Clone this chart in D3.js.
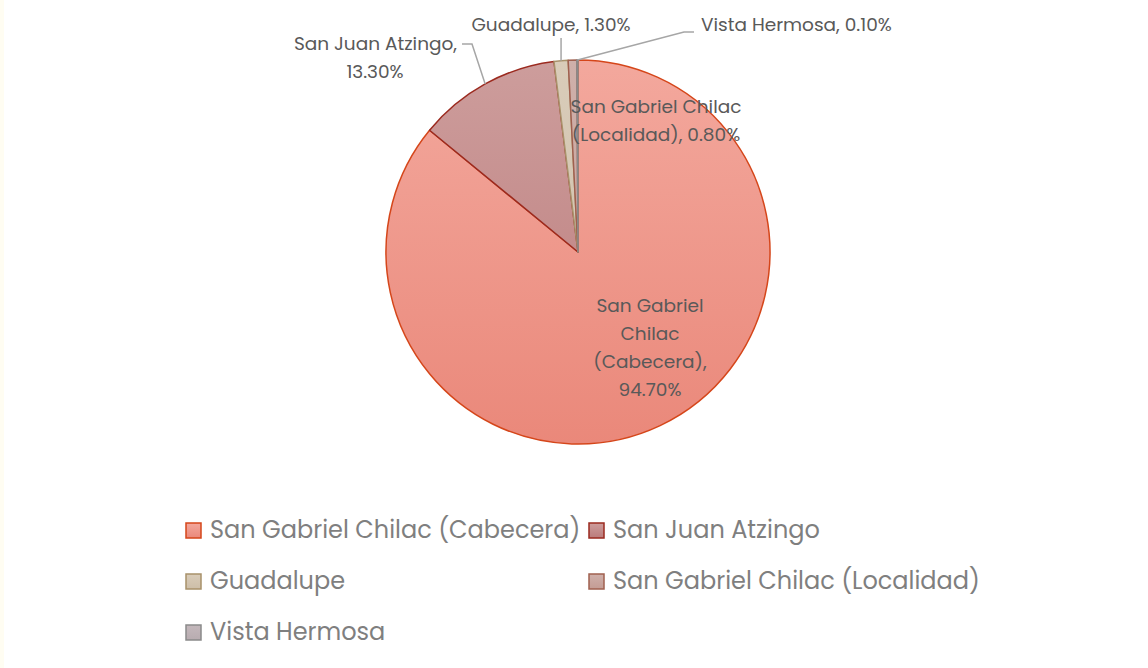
<!DOCTYPE html>
<html>
<head>
<meta charset="utf-8">
<script src="https://cdn.jsdelivr.net/npm/d3@7"></script>
<style>
  html, body { margin: 0; padding: 0; background: #ffffff; }
  #chart { width: 1148px; height: 668px; border-left: 4px solid #fffdf2; box-sizing: border-box; }
  text { font-family: "Poppins", "Open Sans", "Noto Sans", sans-serif; }
</style>
</head>
<body>
<div id="chart"></div>
<script>
// datos de la grafica
var categories = ["San Gabriel Chilac (Cabecera)", "San Juan Atzingo", "Guadalupe",
                  "San Gabriel Chilac (Localidad)", "Vista Hermosa"];
var values = [94.7, 13.3, 1.3, 0.8, 0.1];
var labelLines = [
  ["San Gabriel", "Chilac", "(Cabecera),", "94.70%"],
  ["San Juan Atzingo,", "13.30%"],
  ["Guadalupe, 1.30%"],
  ["San Gabriel Chilac", "(Localidad), 0.80%"],
  ["Vista Hermosa, 0.10%"]
];

// colores: arriba, abajo, borde
var fillTop = ["#f3a89d", "#cd9d9c", "#d9ccb9", "#cfb0aa", "#c4b8bc"];
var fillBottom = ["#ea887a", "#bb7b7b", "#cdbea8", "#c49c94", "#b8acb0"];
var strokes = ["#d5461a", "#9b2a1f", "#a8916a", "#a0604f", "#8a8a8a"];

var W = 1144, H = 668;
var cx = 574, cy = 252, R = 192;

var svg = d3.select("#chart").append("svg").attr("width", W).attr("height", H);
var defs = svg.append("defs");

fillTop.forEach(function(c, i) {
  var g = defs.append("linearGradient").attr("id", "grad" + i)
    .attr("gradientUnits", "userSpaceOnUse")
    .attr("x1", 0).attr("y1", -R).attr("x2", 0).attr("y2", R);
  g.append("stop").attr("offset", "0%").attr("stop-color", c);
  g.append("stop").attr("offset", "100%").attr("stop-color", fillBottom[i]);
});

var pie = d3.pie().sort(null).value(function(d) { return d; });
var arcs = pie(values);
var arc = d3.arc().innerRadius(0).outerRadius(R);

var g = svg.append("g").attr("transform", "translate(" + cx + "," + cy + ")");

g.selectAll("path.slice").data(arcs).enter().append("path")
  .attr("class", "slice")
  .attr("d", arc)
  .attr("fill", function(d, i) { return "url(#grad" + i + ")"; })
  .attr("stroke", function(d, i) { return strokes[i]; })
  .attr("stroke-width", 1.5)
  .attr("stroke-linejoin", "round");

// posicion de etiquetas (desplazamiento desde el centro) y anclaje
var labelLayout = [
  { x: 72, y: 55, anchor: "middle" },
  { x: -121, y: -207, anchor: "end", lastAnchor: "middle", lastX: -203 },
  { x: -27, y: -226, anchor: "middle" },
  { x: 78, y: -144, anchor: "middle" },
  { x: 123, y: -226, anchor: "start" }
];
// lineas guia (solo etiquetas externas)
var leaders = [null, { elbowX: -106, y: -208 }, { elbowX: null, y: -214 }, null, { elbowX: 106, y: -220 }];

var lineH = 28;
arcs.forEach(function(a, i) {
  var L = labelLayout[i];
  var t = g.append("text").attr("fill", "#595959").attr("font-size", 18.5);
  labelLines[i].forEach(function(s, k) {
    var last = k === labelLines[i].length - 1 && L.lastAnchor;
    t.append("tspan")
      .attr("x", last ? L.lastX : L.x)
      .attr("y", L.y + k * lineH)
      .attr("text-anchor", last ? L.lastAnchor : L.anchor)
      .attr("dominant-baseline", "middle")
      .text(s);
  });
  var ld = leaders[i];
  if (ld) {
    var mid = (a.startAngle + a.endAngle) / 2;
    var px = Math.sin(mid) * R, py = -Math.cos(mid) * R;
    var pts;
    if (ld.elbowX === null) {
      pts = [[px, ld.y], [px, py]];
    } else {
      var startX = ld.elbowX + (ld.elbowX < 0 ? -10 : 10);
      pts = [[startX, ld.y], [ld.elbowX, ld.y], [px, py]];
    }
    g.append("path")
      .attr("d", d3.line()(pts))
      .attr("fill", "none")
      .attr("stroke", "#a6a6a6")
      .attr("stroke-width", 1.5);
  }
});

// leyenda
var legendX = [186, 589];
var legendY = [531, 582, 633];
var leg = svg.append("g");
categories.forEach(function(c, i) {
  var col = i === 0 ? 0 : (i === 1 ? 1 : (i - 2) % 2);
  var row = i < 2 ? 0 : 1 + Math.floor((i - 2) / 2);
  var x = legendX[col], y = legendY[row];
  var lg = defs.append("linearGradient").attr("id", "lg" + i)
    .attr("x1", 0).attr("y1", 0).attr("x2", 0).attr("y2", 1);
  lg.append("stop").attr("offset", "0%").attr("stop-color", fillTop[i]);
  lg.append("stop").attr("offset", "100%").attr("stop-color", fillBottom[i]);
  leg.append("rect")
    .attr("x", x - 4).attr("y", y - 8).attr("width", 15).attr("height", 15)
    .attr("fill", "url(#lg" + i + ")")
    .attr("stroke", strokes[i]).attr("stroke-width", 1.5);
  leg.append("text")
    .attr("x", x + 20).attr("y", y)
    .attr("dominant-baseline", "middle")
    .attr("font-size", 24)
    .attr("fill", "#7f7f7f")
    .text(c);
});
</script>
</body>
</html>
